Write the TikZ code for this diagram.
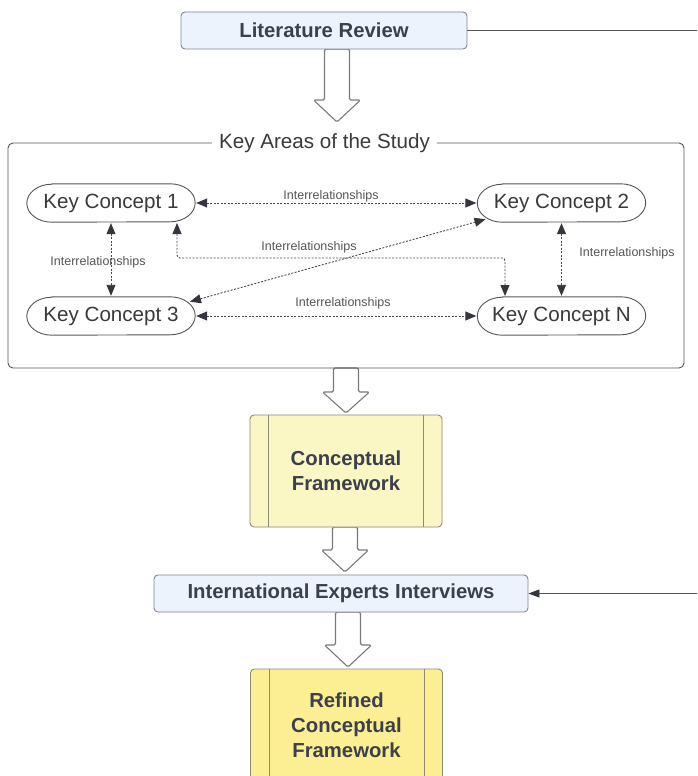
\documentclass[tikz,border=0pt]{standalone}
\usepackage{fontspec}
\setmainfont{Liberation Sans}
\usetikzlibrary{arrows.meta,calc}

\definecolor{bluefill}{HTML}{EDF3FD}
\definecolor{blueline}{HTML}{7E8796}
\definecolor{paleyellow}{HTML}{FBF7C4}
\definecolor{deepyellow}{HTML}{FCEE92}
\definecolor{yellowline}{HTML}{8C8B78}
\definecolor{boldtext}{HTML}{3B404C}
\definecolor{plaintext}{HTML}{3A3A3A}
\definecolor{labeltext}{HTML}{555555}
\definecolor{relline}{HTML}{4A4A4A}
\definecolor{tipcolor}{HTML}{33363D}
\definecolor{framecolor}{HTML}{555555}
\definecolor{blockline}{HTML}{7A7A7A}

\tikzset{
  bluebox/.style={draw=blueline, fill=bluefill, rounded corners=4, line width=0.9,
    inner sep=0, text=boldtext, font=\fontsize{20.3}{24}\selectfont\bfseries},
  yellowbox/.style={draw=yellowline, rounded corners=4, line width=0.9,
    minimum width=192, minimum height=112, inner sep=0, align=center,
    text=boldtext, font=\fontsize{20.3}{25}\selectfont\bfseries},
  concept/.style={minimum width=168, minimum height=38, inner sep=0, text=plaintext,
    font=\fontsize{20.6}{24}\selectfont},
  capsule/.style={draw=framecolor, fill=white, line width=0.9},
  rellabel/.style={inner sep=0, text=labeltext, font=\fontsize{12.5}{14}\selectfont},
  rel/.style={draw=relline, line width=0.9, dash pattern=on 2pt off 1.5pt,
    {Triangle[length=11pt,width=9pt,color=tipcolor]}-{Triangle[length=11pt,width=9pt,color=tipcolor]},
    shorten <=1pt, shorten >=1pt},
  feed/.style={draw=framecolor, line width=0.9},
  blockarr/.style={draw=blockline, fill=white, line width=1.1, rounded corners=1.5},
  pics/hollowdown/.style args={#1/#2}{code={
    \draw[blockarr] (-12.5,0) -- (-12.5,#1) -- (-23.5,#1) -- (0,#2)
      -- (23.5,#1) -- (12.5,#1) -- (12.5,0) -- cycle;
  }},
}

% outline with elliptic ends around a concept node
\newcommand{\capsuleoutline}[1]{%
  \draw[capsule] ($(#1.north west)+(25,0)$) -- ($(#1.north east)+(-25,0)$)
    arc[start angle=90, end angle=-90, x radius=25pt, y radius=19pt]
    -- ($(#1.south west)+(25,0)$)
    arc[start angle=270, end angle=90, x radius=25pt, y radius=19pt] -- cycle;%
}

\begin{document}
\begin{tikzpicture}[x=1pt, y=-1pt]
\useasboundingbox (0,0) rectangle (697,776);
\clip (0,0) rectangle (697,776);
\fill[white] (0,0) rectangle (697,776);

% hollow flow arrows between the stages
\pic at (337,49) {hollowdown={51/73}};
\pic at (346,368) {hollowdown={24/45}};
\pic at (345,527) {hollowdown={23/45}};
\pic at (348,612) {hollowdown={33/55}};

% top stage
\node[bluebox, minimum width=286, minimum height=37] (lit) at (324,30.5) {Literature Review};
\coordinate (litout) at (697,30.5);
\draw[feed] (lit.east) -- (litout);

% frame with the key concepts
\node[draw=framecolor, line width=0.9, rounded corners=5, minimum width=676,
      minimum height=225, inner sep=0] (area) at (346,255.5) {};
\node[fill=white, inner xsep=7, inner ysep=1, anchor=base, text=plaintext,
      font=\fontsize{20.6}{24}\selectfont] (areatitle) at (324.5,148) {Key Areas of the Study};

\node[concept] (kc1) at (111,203) {};
\node[concept] (kc2) at (561.5,203) {};
\node[concept] (kc3) at (111,316) {};
\node[concept] (kcN) at (561.5,316) {};

% interrelationships
\draw[rel] (kc1.east) -- (kc2.west);
\draw[rel] (kc3.east) -- (kcN.west);
\draw[rel] (kc1.south) -- (kc3.north);
\draw[rel] (kc2.south) -- (kcN.north);
\coordinate (d1) at ($(kc3.center)+(78,-14)$);
\coordinate (d2) at ($(kc2.center)+(-75,16)$);
\draw[rel] (d1) -- (d2);
\coordinate (e1) at ($(kc1.center)+(66,19)$);
\coordinate (e2) at ($(kcN.center)+(-56.5,-19)$);
\draw[rel, rounded corners=3] (e1) -- ++(0,36) -| (e2);

% concept outlines and names
\capsuleoutline{kc1}
\capsuleoutline{kc2}
\capsuleoutline{kc3}
\capsuleoutline{kcN}
\node[concept] (kc1t) at (kc1.center) {Key Concept 1};
\node[concept] (kc2t) at (kc2.center) {Key Concept 2};
\node[concept] (kc3t) at (kc3.center) {Key Concept 3};
\node[concept] (kcNt) at (kcN.center) {Key Concept N};

\node[rellabel] (l12) at (331,196) {Interrelationships};
\node[rellabel] (l13) at (98,262) {Interrelationships};
\node[rellabel] (l1N) at (309,247) {Interrelationships};
\node[rellabel] (l2N) at (627,253) {Interrelationships};
\node[rellabel] (l3N) at (343,303) {Interrelationships};

% framework stages
\node[yellowbox, fill=paleyellow] (cf) at (346,471) {Conceptual\\Framework};
\draw[draw=yellowline, line width=0.9] ([xshift=19]cf.north west) -- ([xshift=19]cf.south west);
\draw[draw=yellowline, line width=0.9] ([xshift=-19]cf.north east) -- ([xshift=-19]cf.south east);

\node[bluebox, minimum width=374, minimum height=37] (iei) at (341,593.5) {International Experts Interviews};
\coordinate (ieiin) at (697,593.5);
\draw[feed, -{Triangle[length=11pt,width=8pt,color=tipcolor]}] (ieiin) -- (iei.east);

\node[yellowbox, fill=deepyellow] (rcf) at (346.5,725) {Refined\\Conceptual\\Framework};
\draw[draw=yellowline, line width=0.9] ([xshift=19]rcf.north west) -- ([xshift=19]rcf.south west);
\draw[draw=yellowline, line width=0.9] ([xshift=-19]rcf.north east) -- ([xshift=-19]rcf.south east);
\end{tikzpicture}
\end{document}
